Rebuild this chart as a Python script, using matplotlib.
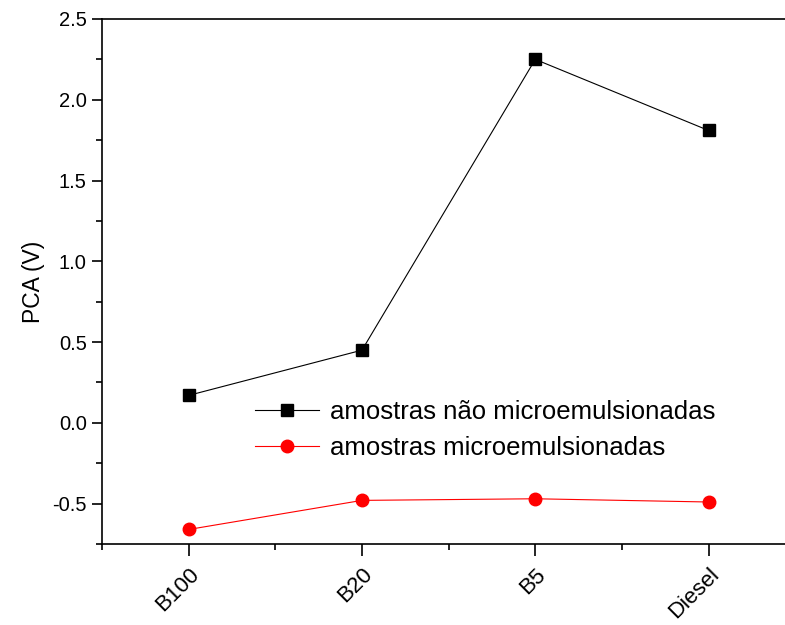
import numpy as np
import matplotlib.pyplot as plt
from matplotlib.ticker import MultipleLocator

plt.rcParams['font.family'] = ['Liberation Sans', 'DejaVu Sans']

amostras = ['B100', 'B20', 'B5', 'Diesel']
nao_micro = [0.17, 0.45, 2.25, 1.81]
micro = [-0.66, -0.48, -0.47, -0.49]

fig = plt.figure(figsize=(7.85, 6.25), dpi=100)
ax = fig.add_axes([0.130, 0.1296, 0.883, 0.840])

x = np.arange(1, len(amostras) + 1)
ax.plot(x, nao_micro, color='black', lw=0.8, marker='s', ms=8.5,
        label='amostras não microemulsionadas')
ax.plot(x, micro, color='red', lw=0.8, marker='o', ms=9,
        label='amostras microemulsionadas')

ax.set_xlim(0.5, 4.5)
ax.set_ylim(-0.75, 2.5)
ax.set_xticks(x)
ax.set_xticklabels(amostras, rotation=45, ha='right', rotation_mode='anchor', fontsize=16)
ax.xaxis.set_minor_locator(MultipleLocator(0.5))
ax.yaxis.set_minor_locator(MultipleLocator(0.25))
ticks = np.arange(-0.5, 2.51, 0.5)
ax.set_yticks(ticks)
ax.set_yticklabels(['%.1f' % t for t in ticks], fontsize=14.5)

ax.tick_params(which='major', direction='out', length=7.5, width=1.2)
ax.tick_params(which='minor', direction='out', length=4, width=1.2)
ax.tick_params(axis='x', which='major', length=8.5, pad=6)
for s in ['left', 'bottom', 'top']:
    ax.spines[s].set_linewidth(1.2)
ax.spines['right'].set_visible(False)

ax.set_ylabel('PCA (V)', fontsize=16.5, labelpad=5)

ax.legend(loc='upper left', bbox_to_anchor=(0.221, 0.275), frameon=False,
          fontsize=18.5, handlelength=2.5, handletextpad=0.4, labelspacing=0.5,
          borderaxespad=0, borderpad=0)

fig.savefig('out.png', dpi=100)
